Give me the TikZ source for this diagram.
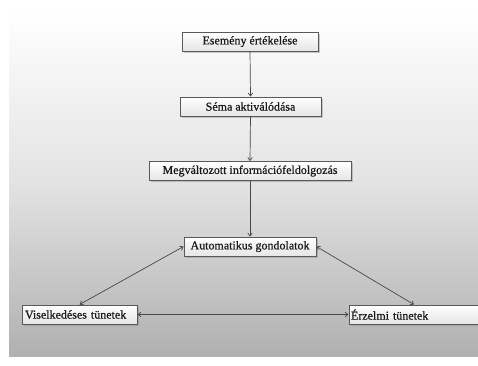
\documentclass[tikz,border=0pt]{standalone}
\usepackage{fontspec}
\setmainfont{Liberation Serif}[FakeBold=0.6]
\newfontfamily\boxfont{Liberation Serif}[FakeBold=0.6]
\usetikzlibrary{shadows,arrows.meta}
\tikzset{
  flowbox/.style={draw=black!65, line width=0.9pt, top color=white, bottom color=gray!20,
    inner sep=0pt, minimum height=19pt, font=\boxfont\fontsize{12}{14}\selectfont, text=black!90,
    drop shadow={opacity=0.4, shadow xshift=1.5pt, shadow yshift=-1.5pt}},
  conn/.style={draw=black!72, line width=0.7pt, -{Straight Barb[length=3pt,width=4.5pt]}},
  biconn/.style={draw=black!72, line width=0.7pt, {Straight Barb[length=3pt,width=4.5pt]}-{Straight Barb[length=3pt,width=4.5pt]}}
}
\begin{document}
\begin{tikzpicture}[x=1pt,y=-1pt]
\useasboundingbox (0,0) rectangle (478,365);
\fill[white] (0,0) rectangle (478,365);
\shade[top color=white, bottom color=gray!62, middle color=gray!22] (9,10) rectangle (478,356);
\node[flowbox, minimum width=136pt] (e1) at (250,41.5) {Esemény értékelése};
\node[flowbox, minimum width=141pt] (e2) at (250.5,106.5) {Séma aktiválódása};
\node[flowbox, minimum width=202pt] (e3) at (250,171) {Megváltozott információfeldolgozás};
\node[flowbox, minimum width=132pt] (e4) at (250,246.5) {Automatikus gondolatok};
\node[flowbox, minimum width=115pt, text width=109pt, align=left] (e5) at (79.5,314.5) {Viselkedéses tünetek};
\node[flowbox, minimum width=130pt, text width=126pt, align=left] (e6) at (414,314.5) {Érzelmi tünetek};
\draw[conn] (e1.south) -- (e2.north);
\draw[conn] (e2.south) -- (e3.north);
\draw[conn] (e3.south) -- (e4.north);
\draw[biconn] (e4.west) -- (e5.north);
\draw[biconn] (e4.east) -- (e6.north);
\draw[biconn] (e5.east) -- (e6.west);
\end{tikzpicture}
\end{document}
